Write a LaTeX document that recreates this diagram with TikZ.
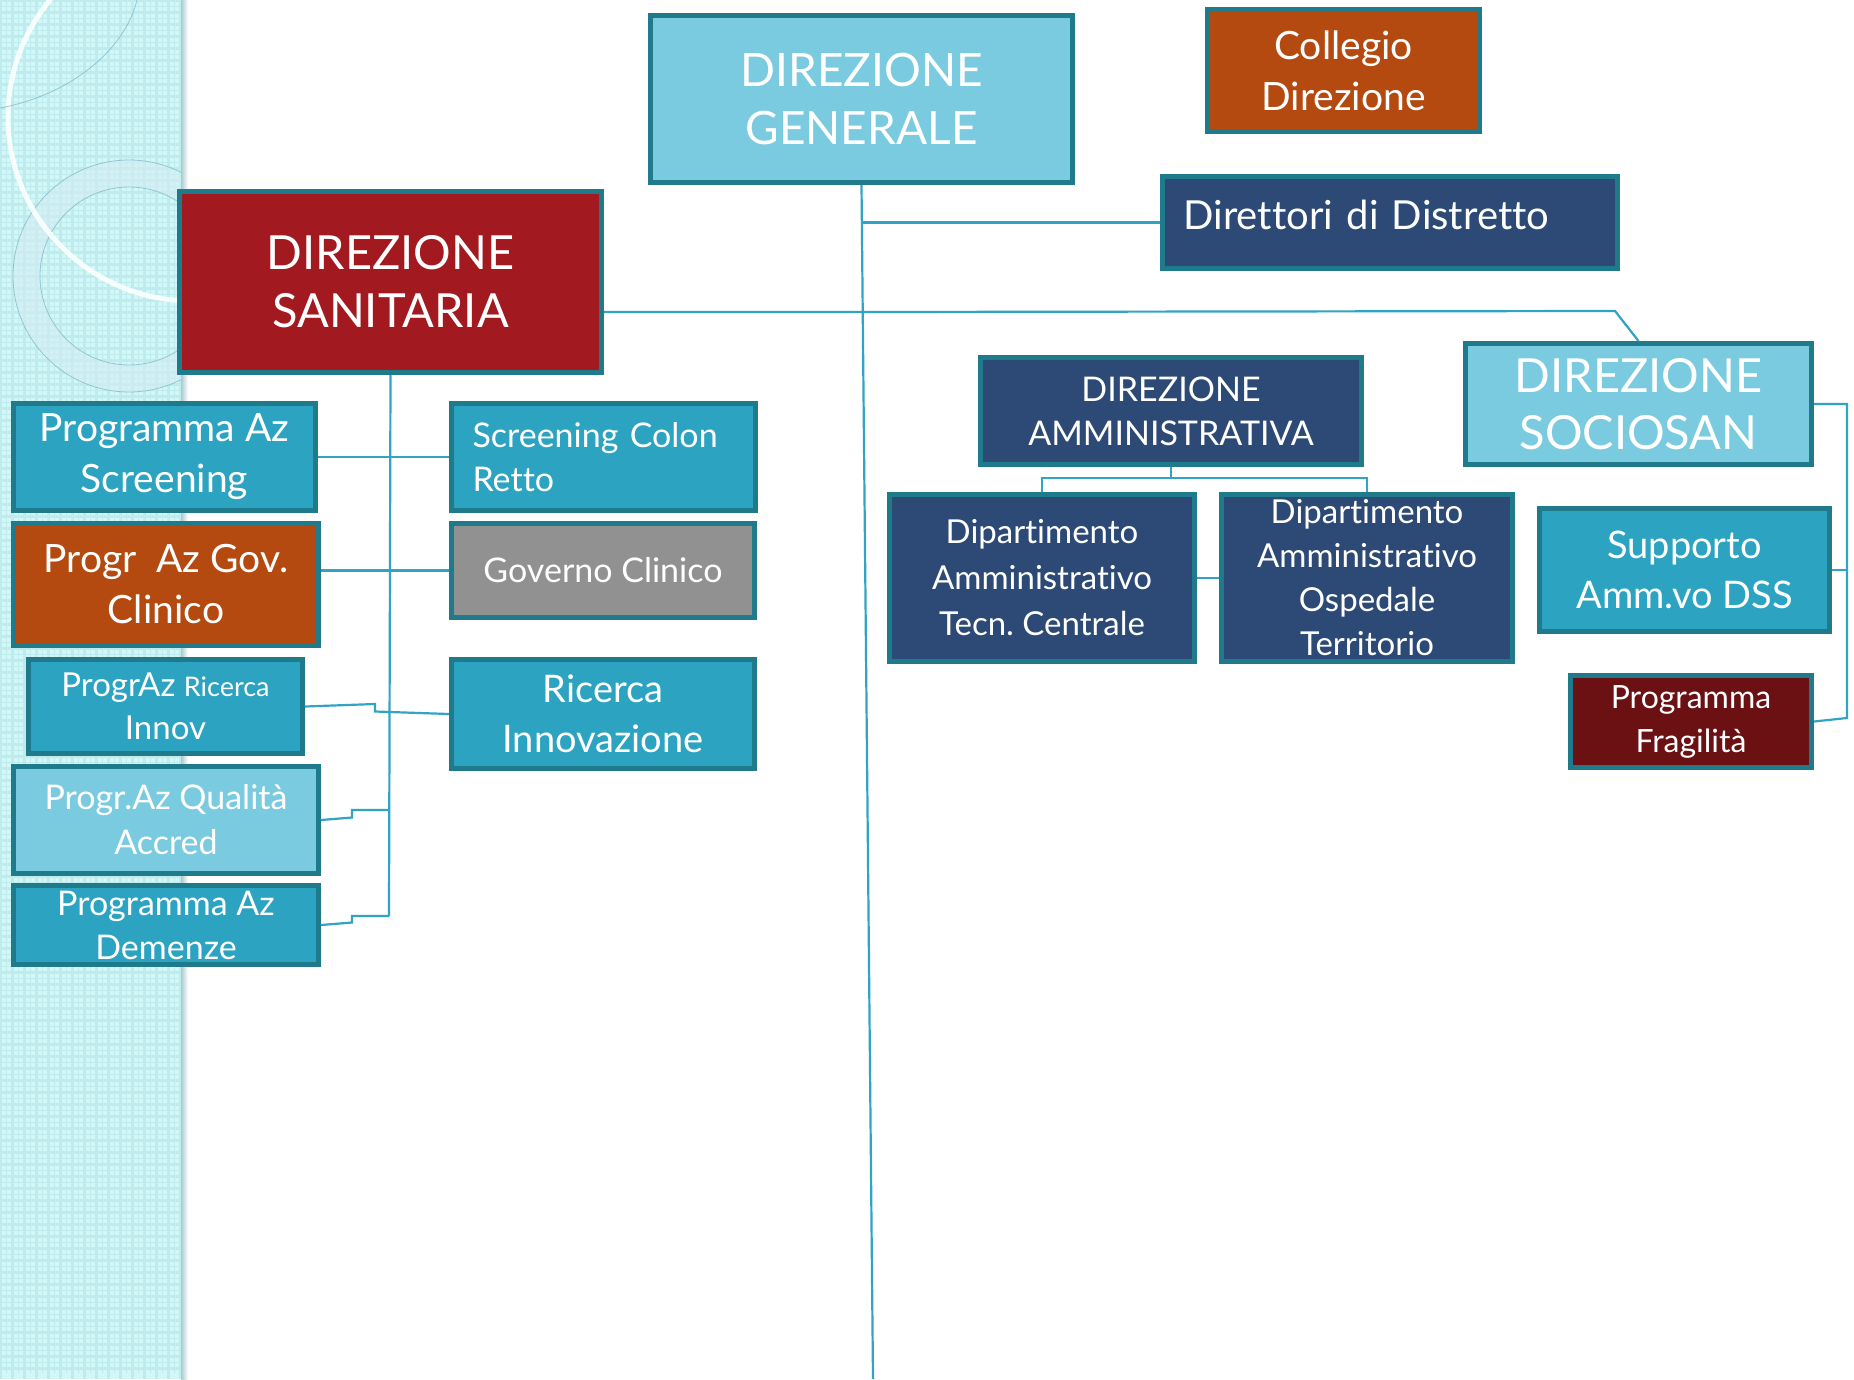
\documentclass[tikz,border=0pt]{standalone}
\usepackage{fontspec}
\setmainfont{Lato}[Ligatures={NoCommon}]
\frenchspacing
\definecolor{bordc}{HTML}{1F7A8C}
\definecolor{lblue}{HTML}{7BCBE0}
\definecolor{teal}{HTML}{2CA3C1}
\definecolor{navy}{HTML}{2C4A75}
\definecolor{dsred}{HTML}{A2191F}
\definecolor{brorange}{HTML}{B44A10}
\definecolor{gbox}{HTML}{919191}
\definecolor{dred}{HTML}{6B1113}
\definecolor{connc}{HTML}{31A4C4}
\definecolor{stripc}{HTML}{D3F6F7}
\definecolor{stripg}{HTML}{BDEBEE}
\newcommand{\fs}[2]{\fontsize{#1}{#2}\selectfont}
\begin{document}
\begin{tikzpicture}[x=1pt,y=-1pt,
  box/.style={draw=bordc, line width=5pt, inner sep=0pt, anchor=north west, text=white, align=center},
  conn/.style={draw=connc, line width=2.2pt}]
\useasboundingbox (0,0) rectangle (1854,1379);
\fill[white] (0,0) rectangle (1854,1379);
% left decorative strip
\fill[stripc] (0,0) rectangle (186,1379);
\begin{scope}
\clip (0,0) rectangle (183,1379);
\draw[stripg, line width=3pt] (0,0) grid[step=12pt] (186,1379);
\draw[stripg, line width=1pt, shift={(6pt,6pt)}] (-6,-6) grid[step=12pt] (186,1379);
\fill[white, opacity=0.5, even odd rule] (129,276) circle[radius=116] (129,276) circle[radius=89];
\fill[lblue, opacity=0.2, even odd rule] (129,276) circle[radius=116] (129,276) circle[radius=89];
\draw[lblue!70!gray, line width=0.8pt, opacity=0.7] (129,276) circle[radius=116];
\draw[lblue!70!gray, line width=0.8pt, opacity=0.7] (129,276) circle[radius=89];
\draw[white, line width=5pt, opacity=0.85] (192,117) circle[radius=184];
\draw[lblue!70!gray, line width=0.8pt, opacity=0.7] (0,108) .. controls (70,95) and (125,50) .. (137,0);
\end{scope}
\shade[left color=stripg!70!gray, right color=white] (181,0) rectangle (188,1379);

% boxes
\node[box, fill=lblue, minimum width=422pt, minimum height=167pt, font=\fs{46}{58}] (dg) at (648,13) {DIREZIONE\\GENERALE};
\node[box, fill=brorange, minimum width=272pt, minimum height=122pt, font=\fs{39}{51}] (col) at (1205,7) {Collegio\\Direzione};
\node[box, fill=navy, minimum width=455pt, minimum height=92pt, text width=413pt, inner xsep=21pt, align=left, font=\fs{40}{46}] (dir) at (1160,174) {\raisebox{16pt}{Direttori di Distretto}};
\node[box, fill=dsred, minimum width=422pt, minimum height=181pt, font=\fs{47}{58}] (ds) at (177,189) {DIREZIONE\\SANITARIA};
\node[box, fill=navy, minimum width=381pt, minimum height=107pt, font=\fs{34}{44}] (da) at (978,355) {DIREZIONE\\AMMINISTRATIVA};
\node[box, fill=lblue, minimum width=346pt, minimum height=121pt, font=\fs{47}{57}] (soc) at (1463,341) {DIREZIONE\\SOCIOSAN};
\node[box, fill=navy, minimum width=305pt, minimum height=167pt, font=\fs{33}{46}] (dip1) at (887,492) {Dipartimento\\Amministrativo\\Tecn. Centrale};
\node[box, fill=navy, minimum width=291pt, minimum height=167pt, font=\fs{33}{44}] (dip2) at (1219,492) {Dipartimento\\Amministrativo\\Ospedale\\Territorio};
\node[box, fill=teal, minimum width=290pt, minimum height=123pt, font=\fs{38}{50}] (supp) at (1537,506) {Supporto\\Amm.vo DSS};
\node[box, fill=dred, minimum width=241pt, minimum height=92pt, font=\fs{32}{44}] (frag) at (1568,673) {Programma\\Fragilità};

\node[box, fill=teal, minimum width=302pt, minimum height=107pt, font=\fs{39}{51}] (pas) at (11,401) {Programma Az\\Screening};
\node[box, fill=teal, minimum width=304pt, minimum height=107pt, text width=262pt, inner xsep=21pt, align=left, font=\fs{34}{44}] (scr) at (449,401) {Screening Colon\\Retto};
\node[box, fill=brorange, minimum width=305pt, minimum height=122pt, font=\fs{39}{51}] (pgc) at (11,521) {Progr\ \ Az Gov.\\Clinico};
\node[box, fill=gbox, minimum width=303pt, minimum height=94pt, font=\fs{34}{44}] (gov) at (449,521) {Governo Clinico};
\node[box, fill=teal, minimum width=274pt, minimum height=94pt, font=\fs{33}{43}] (pri) at (26,657) {ProgrAz {\fs{27}{43}Ricerca}\\Innov};
\node[box, fill=teal, minimum width=303pt, minimum height=109pt, font=\fs{38}{50}] (ric) at (449,657) {Ricerca\\Innovazione};
\node[box, fill=lblue, minimum width=305pt, minimum height=107pt, font=\fs{34}{45}] (pqa) at (11,764) {Progr.Az Qualità\\Accred};
\node[box, fill=teal, minimum width=305pt, minimum height=79pt, font=\fs{34}{44}] (pad) at (11,883) {Programma Az\\Demenze};

% connectors
\coordinate (dgend) at (873,1379);
\draw[conn] (dg.south) -- (dgend);
\draw[conn] (dg.south |- dir.west) -- (dir.west);
\draw[conn] (ds.east |- 0,312) -- (858,312) -- (1615,311) -- (soc.north);
\coordinate (dsend) at (389,916);
\draw[conn] (ds.south) -- (dsend);
\draw[conn] (pas.east) -- (scr.west);
\draw[conn] (pgc.east |- gov.west) -- (gov.west);
\draw[conn] (pri.east) -- (375,704) -- (375,711.5) -- (ric.west);
\draw[conn] (pqa.east) -- (352,817.5) -- (352,810) -- (389,810);
\draw[conn] (pad.east) -- (352,922.5) -- (352,916) -- (dsend);
\draw[conn] (da.south) -- (da.south |- 0,478);
\draw[conn] (dip1.north) |- (dip2.north |- 0,478) -- (dip2.north);
\draw[conn] (dip1.east) -- (dip2.west);
\coordinate (sbus) at (1847,718);
\draw[conn] (soc.east) -- (soc.east -| sbus) -- (sbus) -- (frag.east);
\draw[conn] (supp.east) -- (supp.east -| sbus);
\end{tikzpicture}
\end{document}
